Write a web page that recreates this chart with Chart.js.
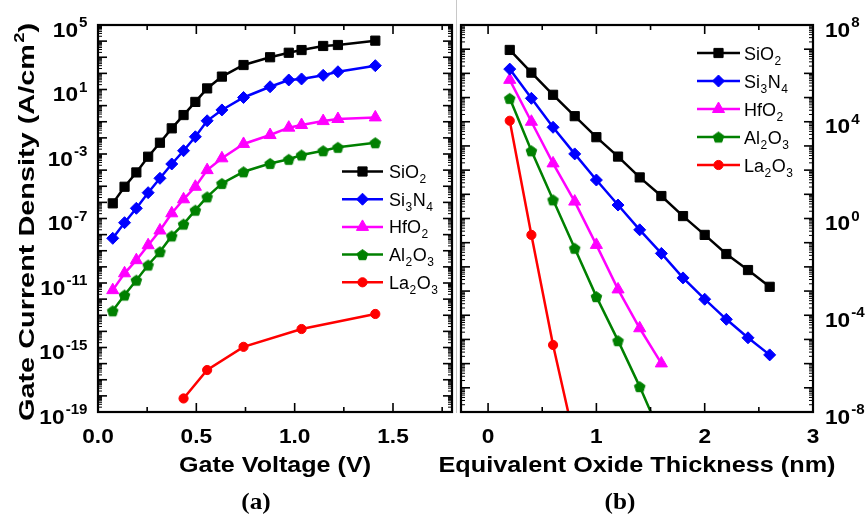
<!DOCTYPE html>
<html>
<head>
<meta charset="utf-8">
<title>Gate leakage of gate dielectrics</title>
<script src="https://cdn.jsdelivr.net/npm/chart.js@4.4.0/dist/chart.umd.min.js"></script>
<style>
  html, body { margin: 0; padding: 0; background: #ffffff; }
  #wrap { position: relative; width: 865px; height: 515px; overflow: hidden; }
  #wrap canvas { position: absolute; left: 0; top: 0; }
</style>
</head>
<body>
<div id="wrap">
  <canvas id="jgVsV" width="865" height="515"></canvas>
  <canvas id="jgVsEot" width="865" height="515"></canvas>
</div>
<script>
// ---------- (a) gate current density vs gate voltage ----------
const gateVoltage = [0.075, 0.135, 0.195, 0.255, 0.315, 0.375, 0.435, 0.495, 0.555, 0.63, 0.74, 0.875, 0.97, 1.035, 1.145, 1.22, 1.41];
const jgSiO2  = [8.7e-7, 9.3e-6, 7.2e-5, 6.8e-4, 5.0e-3, 3.9e-2, 0.26, 1.7, 11.7, 63, 330, 1000, 1900, 2800, 5000, 5750, 10700];
const jgSi3N4 = [5.9e-9, 5.5e-8, 4.3e-7, 4.0e-6, 3.1e-5, 2.4e-4, 1.6e-3, 1.17e-2, 0.115, 0.54, 3.2, 14.8, 39, 45, 76, 126, 300];
const jgHfO2  = [3.6e-12, 4.0e-11, 2.6e-10, 2.2e-9, 1.8e-8, 2.1e-7, 1.55e-6, 9.3e-6, 1.0e-4, 5.4e-4, 4.2e-3, 1.5e-2, 4.3e-2, 6.3e-2, 0.11, 0.148, 0.186];
const jgAl2O3 = [1.9e-13, 1.8e-12, 1.5e-11, 1.3e-10, 8.7e-10, 8.3e-9, 4.5e-8, 3.3e-7, 2.2e-6, 1.5e-5, 7.9e-5, 2.6e-4, 4.7e-4, 8.7e-4, 1.6e-3, 2.6e-3, 5.0e-3];
const laVoltage = [0.435, 0.555, 0.74, 1.035, 1.41];
const jgLa2O3 = [6.9e-19, 4.0e-17, 1.1e-15, 1.4e-14, 1.2e-13];

const voltTicks = [0, 0.5, 1.0, 1.5];
const voltTickLabels = ['0.0', '0.5', '1.0', '1.5'];
const voltMinorTicks = [0.25, 0.75, 1.25, 1.75];
const jgExponents = [5, 1, -3, -7, -11, -15, -19];

// ---------- (b) gate current density vs equivalent oxide thickness ----------
const eotNm = [0.2, 0.4, 0.6, 0.8, 1.0, 1.2, 1.4, 1.6, 1.8, 2.0, 2.2, 2.4, 2.6];
const eotSiO2  = [9.3e6, 1.07e6, 1.3e5, 1.7e4, 2.3e3, 363, 50, 8.5, 1.26, 0.21, 3.4e-2, 7.4e-3, 1.5e-3];
const eotSi3N4 = [1.5e6, 9.3e4, 5.9e3, 468, 39, 3.6, 0.34, 3.6e-2, 3.5e-3, 4.6e-4, 6.8e-5, 1.17e-5, 2.3e-6];
const eotHfO2  = [5.4e5, 1.0e4, 190, 5.0, 8.1e-2, 1.17e-3, 2.9e-5, 1.02e-6];
const eotAl2O3 = [9.3e4, 630, 5.9, 5.9e-2, 5.9e-4, 8.9e-6, 1.12e-7, 1.0e-9];
const eotLa2O3 = [1.1e4, 0.21, 5.9e-6, 6.3e-10];

const eotTicks = [0, 1, 2, 3];
const eotTickLabels = ['0', '1', '2', '3'];
const eotMinorTicks = [0.5, 1.5, 2.5];
const eotExponents = [8, 4, 0, -4, -8];

// Legend entries: [main text, subscript] pairs
const materials = ['SiO2', 'Si3N4', 'HfO2', 'Al2O3', 'La2O3'];
const materialLabels = {
  SiO2:  [['SiO', '2']],
  Si3N4: [['Si', '3'], ['N', '4']],
  HfO2:  [['HfO', '2']],
  Al2O3: [['Al', '2'], ['O', '3']],
  La2O3: [['La', '2'], ['O', '3']]
};

const SANS = "'Liberation Sans', Arial, Helvetica, sans-serif";
const SERIF = "'Liberation Serif', 'Times New Roman', serif";

function pentagonMarker(color, r) {
  const s = Math.ceil(2 * r + 3);
  const c = document.createElement('canvas');
  c.width = s; c.height = s;
  const g = c.getContext('2d');
  g.beginPath();
  for (let i = 0; i < 5; i++) {
    const ang = -Math.PI / 2 + i * 2 * Math.PI / 5;
    const px = s / 2 + r * Math.cos(ang);
    const py = s / 2 + 0.6 + r * Math.sin(ang);
    if (i === 0) g.moveTo(px, py); else g.lineTo(px, py);
  }
  g.closePath();
  g.fillStyle = color;
  g.fill();
  g.strokeStyle = color;
  g.lineWidth = 1;
  g.stroke();
  return c;
}

const seriesStyle = {
  SiO2:  { color: '#000000', pointStyle: 'rect', radius: 6.5 },
  Si3N4: { color: '#0000ff', pointStyle: 'rectRot', radius: 6 },
  HfO2:  { color: '#ff00ff', pointStyle: 'triangle', radius: 7 },
  Al2O3: { color: '#008000', pointStyle: pentagonMarker('#008000', 5.6), radius: 6 },
  La2O3: { color: '#ff0000', pointStyle: 'circle', radius: 4.6 }
};

function series(name, xs, ys) {
  const st = seriesStyle[name];
  return {
    label: name,
    data: xs.map((v, i) => ({ x: v, y: ys[i] })),
    borderColor: st.color,
    backgroundColor: st.color,
    borderWidth: 2.5,
    pointStyle: st.pointStyle,
    pointRadius: st.radius,
    pointHoverRadius: st.radius,
    pointBorderWidth: 1,
    pointBackgroundColor: st.color,
    pointBorderColor: st.color,
    tension: 0,
    clip: 0
  };
}

// ---------- text helpers ----------
function drawPower(ctx, exp, x, tickY, align) {
  const k = 1.08;
  ctx.font = `bold 21px ${SANS}`;
  const wb = ctx.measureText('10').width;
  ctx.font = `bold 14px ${SANS}`;
  const ws = ctx.measureText(String(exp)).width;
  const total = (wb + 1 + ws) * k;
  const x0 = align === 'right' ? x - total : x;
  ctx.save();
  ctx.translate(x0, tickY + 11.5);
  ctx.scale(k, 1);
  ctx.textAlign = 'left';
  ctx.textBaseline = 'alphabetic';
  ctx.font = `bold 21px ${SANS}`;
  ctx.fillText('10', 0, 0);
  ctx.font = `bold 14px ${SANS}`;
  ctx.fillText(String(exp), wb + 1, -9.5);
  ctx.restore();
}

function drawStretched(ctx, text, font, cx, baseline, k) {
  ctx.save();
  ctx.font = font;
  ctx.textAlign = 'center';
  ctx.textBaseline = 'alphabetic';
  ctx.translate(cx, baseline);
  ctx.scale(k, 1);
  ctx.fillText(text, 0, 0);
  ctx.restore();
}

// segments: [{t, sup}] drawn centred on (cx, baseline) and fitted to targetW
function drawTitle(ctx, segments, cx, baseline, targetW, rotated) {
  const mainFont = `bold 22px ${SANS}`;
  const supFont = `bold 14px ${SANS}`;
  let w = 0;
  const widths = segments.map(sg => {
    ctx.font = sg.sup ? supFont : mainFont;
    const ww = ctx.measureText(sg.t).width + (sg.sup ? 1 : 0);
    w += ww;
    return ww;
  });
  const k = targetW / w;
  ctx.save();
  ctx.translate(cx, baseline);
  if (rotated) ctx.rotate(-Math.PI / 2);
  ctx.scale(k, 1);
  ctx.textAlign = 'left';
  ctx.textBaseline = 'alphabetic';
  let x = -w / 2;
  segments.forEach((sg, i) => {
    ctx.font = sg.sup ? supFont : mainFont;
    ctx.fillText(sg.t, x + (sg.sup ? 1 : 0), sg.sup ? -10 : 0);
    x += widths[i];
  });
  ctx.restore();
}

function drawFormula(ctx, parts, x, baseline) {
  let cx = x;
  ctx.textAlign = 'left';
  ctx.textBaseline = 'alphabetic';
  for (const [main, sub] of parts) {
    ctx.font = `18px ${SANS}`;
    ctx.fillText(main, cx, baseline);
    cx += ctx.measureText(main).width;
    if (sub) {
      ctx.font = `12px ${SANS}`;
      ctx.fillText(sub, cx + 0.5, baseline + 5);
      cx += ctx.measureText(sub).width + 1;
    }
  }
}

function drawMarker(ctx, st, x, y) {
  ctx.save();
  ctx.fillStyle = st.color;
  ctx.strokeStyle = st.color;
  ctx.lineWidth = 1;
  if (Chart.helpers && Chart.helpers.drawPoint) {
    Chart.helpers.drawPoint(ctx, { pointStyle: st.pointStyle, radius: st.radius, borderWidth: 1, rotation: 0 }, x, y);
  }
  ctx.restore();
}

function line(ctx, x1, y1, x2, y2) {
  ctx.beginPath();
  ctx.moveTo(x1, y1);
  ctx.lineTo(x2, y2);
  ctx.stroke();
}

// Frame, inward ticks on all four sides, labels, titles and legend
function panelDecor(cfg) {
  return {
    id: 'panelDecor',
    afterDraw(chart) {
      const { ctx, chartArea: a } = chart;
      const xs = chart.scales.x, ys = chart.scales.y;
      ctx.save();
      ctx.strokeStyle = '#000';
      ctx.fillStyle = '#000';

      if (cfg.divider) {
        ctx.save();
        ctx.strokeStyle = '#c8c8c8';
        ctx.lineWidth = 1;
        line(ctx, cfg.divider + 0.5, 0, cfg.divider + 0.5, a.bottom + 1);
        ctx.restore();
      }

      // x ticks
      ctx.lineWidth = 1.6;
      cfg.xMajor.forEach(v => {
        const px = xs.getPixelForValue(v);
        line(ctx, px, a.bottom, px, a.bottom - 9);
        line(ctx, px, a.top, px, a.top + 9);
      });
      cfg.xMinor.forEach(v => {
        const px = xs.getPixelForValue(v);
        line(ctx, px, a.bottom, px, a.bottom - 5);
        line(ctx, px, a.top, px, a.top + 5);
      });

      // y ticks: decades and 2..9 sub-decades on both sides
      for (let e = cfg.yLow; e <= cfg.yHigh; e++) {
        const py = ys.getPixelForValue(Math.pow(10, e));
        ctx.lineWidth = 1.6;
        line(ctx, a.left, py, a.left + 9, py);
        line(ctx, a.right, py, a.right - 9, py);
        if (e < cfg.yHigh) {
          ctx.lineWidth = 1;
          for (let m = 2; m <= 9; m++) {
            const pm = ys.getPixelForValue(m * Math.pow(10, e));
            line(ctx, a.left, pm, a.left + 4, pm);
            line(ctx, a.right, pm, a.right - 4, pm);
          }
        }
      }

      // frame
      ctx.lineWidth = 2.2;
      ctx.strokeRect(a.left, a.top, a.right - a.left, a.bottom - a.top);

      // x tick labels
      cfg.xMajor.forEach((v, i) => {
        drawStretched(ctx, cfg.xLabels[i], `bold 21px ${SANS}`, xs.getPixelForValue(v), 443, 1.08);
      });

      // y tick labels
      cfg.yLabelExps.forEach(e => {
        const py = ys.getPixelForValue(Math.pow(10, e));
        drawPower(ctx, e, cfg.yLabelX, py, cfg.yLabelAlign);
      });

      // axis titles
      drawTitle(ctx, [{ t: cfg.xTitle }], (a.left + a.right) / 2, 471.5, cfg.xTitleW, false);
      if (cfg.yTitle) {
        drawTitle(ctx, cfg.yTitle, 33.5, 222, 398, true);
      }

      // panel tag
      drawStretched(ctx, cfg.tag, `bold 24px ${SERIF}`, cfg.tagX, 509, 1.05);

      // legend
      const lg = cfg.legend;
      materials.forEach((name, i) => {
        const st = seriesStyle[name];
        const y = lg.y + i * lg.dy;
        ctx.save();
        ctx.strokeStyle = st.color;
        ctx.lineWidth = 2.5;
        line(ctx, lg.x1, y, lg.x2, y);
        ctx.restore();
        drawMarker(ctx, st, (lg.x1 + lg.x2) / 2, y);
        ctx.fillStyle = '#000';
        drawFormula(ctx, materialLabels[name], lg.textX, y + 6.5);
      });

      ctx.restore();
    }
  };
}

function baseOptions(xMin, xMax, yMin, yMax, area) {
  return {
    responsive: false,
    animation: false,
    events: [],
    layout: { padding: { left: area.left, top: area.top, right: 865 - area.right, bottom: 515 - area.bottom } },
    plugins: { legend: { display: false }, tooltip: { enabled: false } },
    scales: {
      x: { type: 'linear', min: xMin, max: xMax, display: false },
      y: { type: 'logarithmic', min: yMin, max: yMax, display: false }
    }
  };
}

new Chart(document.getElementById('jgVsV'), {
  type: 'line',
  data: {
    datasets: [
      series('SiO2', gateVoltage, jgSiO2),
      series('Si3N4', gateVoltage, jgSi3N4),
      series('HfO2', gateVoltage, jgHfO2),
      series('Al2O3', gateVoltage, jgAl2O3),
      series('La2O3', laVoltage, jgLa2O3)
    ]
  },
  options: baseOptions(0, 1.8, 1e-19, 1e5, { left: 98, top: 25, right: 452, bottom: 412 }),
  plugins: [panelDecor({
    xMajor: voltTicks, xLabels: voltTickLabels, xMinor: voltMinorTicks,
    yLow: -19, yHigh: 5, yLabelExps: jgExponents, yLabelX: 87.5, yLabelAlign: 'right',
    xTitle: 'Gate Voltage (V)', xTitleW: 192,
    yTitle: [{ t: 'Gate Current Density (A/cm' }, { t: '2', sup: true }, { t: ')' }],
    tag: '(a)', tagX: 256,
    divider: 456,
    legend: { x1: 342, x2: 383, textX: 389, y: 171.5, dy: 27.7 }
  })]
});

new Chart(document.getElementById('jgVsEot'), {
  type: 'line',
  data: {
    datasets: [
      series('SiO2', eotNm, eotSiO2),
      series('Si3N4', eotNm, eotSi3N4),
      series('HfO2', eotNm.slice(0, eotHfO2.length), eotHfO2),
      series('Al2O3', eotNm.slice(0, eotAl2O3.length), eotAl2O3),
      series('La2O3', eotNm.slice(0, eotLa2O3.length), eotLa2O3)
    ]
  },
  options: baseOptions(-0.25, 3, 1e-8, 1e8, { left: 461, top: 25, right: 813, bottom: 412 }),
  plugins: [panelDecor({
    xMajor: eotTicks, xLabels: eotTickLabels, xMinor: eotMinorTicks,
    yLow: -8, yHigh: 8, yLabelExps: eotExponents, yLabelX: 825, yLabelAlign: 'left',
    xTitle: 'Equivalent Oxide Thickness (nm)', xTitleW: 397,
    tag: '(b)', tagX: 620,
    legend: { x1: 697, x2: 740, textX: 744, y: 53, dy: 28 }
  })]
});
</script>
</body>
</html>
